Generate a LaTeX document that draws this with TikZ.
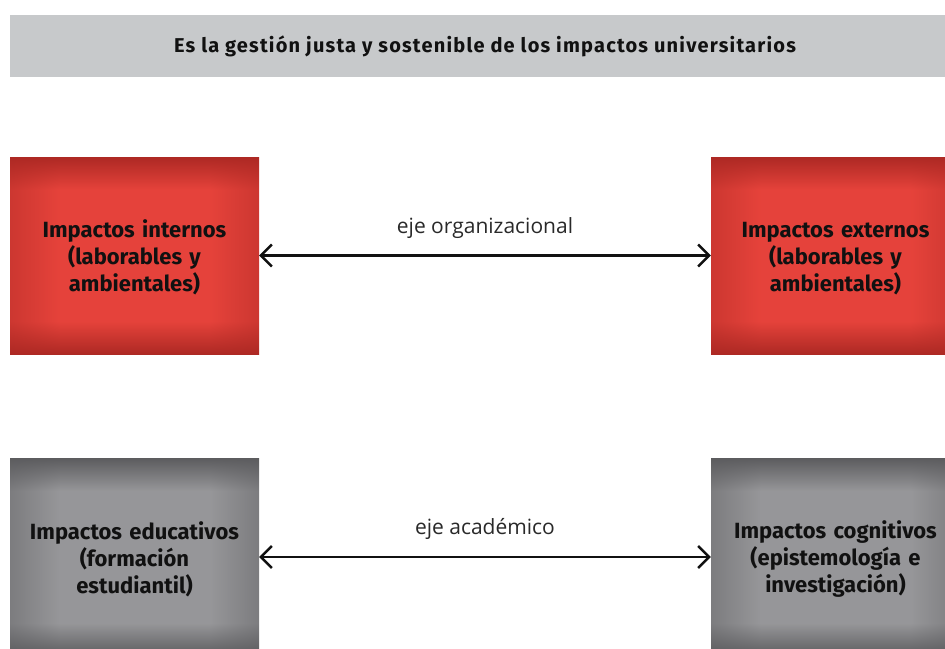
\documentclass[tikz,border=0pt]{standalone}
\usepackage{fontspec}
\setmainfont{Fira Sans}
\newfontfamily\labelfont{Open Sans}
\usetikzlibrary{arrows.meta}
\definecolor{bannergray}{HTML}{C7C9CB}
\definecolor{ink}{HTML}{111111}
% box shadings: colour = dark + (base - dark) * t, t falls off near the edges
% red: dark (0.69,0.16,0.14), base (0.92,0.26,0.23)
\pgfdeclarefunctionalshading{redshade}{\pgfpoint{-50bp}{-50bp}}{\pgfpoint{50bp}{50bp}}{}{
  abs 25 exch sub 0.12 mul dup 1 gt {pop 1} if dup 0 lt {pop 0} if
  exch abs 25 exch sub 0.10 mul dup 1 gt {pop 1} if dup 0 lt {pop 0} if
  0.45 mul 0.55 add mul
  dup 0.22 mul 0.68 add exch
  dup 0.10 mul 0.16 add exch
  0.09 mul 0.14 add
}
% gray: dark (0.36,0.36,0.37), base (0.59,0.59,0.60)
\pgfdeclarefunctionalshading{grayshade}{\pgfpoint{-50bp}{-50bp}}{\pgfpoint{50bp}{50bp}}{}{
  abs 25 exch sub 0.12 mul dup 1 gt {pop 1} if dup 0 lt {pop 0} if
  exch abs 25 exch sub 0.10 mul dup 1 gt {pop 1} if dup 0 lt {pop 0} if
  0.45 mul 0.55 add mul
  dup 0.23 mul 0.36 add exch
  dup 0.23 mul 0.36 add exch
  0.23 mul 0.37 add
}
\newcommand{\firstline}{\rule{0pt}{22pt}}
\tikzset{
  impbox/.style={shade, shading=#1, minimum width=249pt, inner sep=0pt,
    align=center, text width=245pt, text=ink,
    font=\fontsize{22}{27}\selectfont\bfseries},
  redbox/.style={impbox=redshade, minimum height=197pt},
  graybox/.style={impbox=grayshade, minimum height=198pt},
  axis/.style={{Straight Barb[length=11pt,width=22pt]}-{Straight Barb[length=11pt,width=22pt]}, line width=2.4pt, ink},
  axislabel/.style={midway, above=16pt, inner sep=0pt, text=ink!90, font=\labelfont\fontsize{21}{24}\selectfont}
}
\begin{document}
\begin{tikzpicture}[x=1pt,y=-1pt]
\useasboundingbox (0,0) rectangle (945,648);
\clip (0,0) rectangle (945,648);
\node[fill=bannergray, minimum width=950pt, minimum height=62pt, inner sep=0pt, text=ink,
      font=\fontsize{20}{22}\selectfont\bfseries\addfontfeatures{LetterSpace=6}] (title) at (485,46)
      {Es la gestión justa y sostenible de los impactos universitarios};
\node[redbox] (intl) at (134.5,255.5) {\firstline Impactos internos\\(laborables y\\ambientales)};
\node[redbox] (extl) at (835.5,255.5) {\firstline Impactos externos\\(laborables y\\ambientales)};
\node[graybox] (edu) at (134.5,557) {\firstline Impactos educativos\\(formación\\estudiantil)};
\node[graybox] (cog) at (835.5,557) {\firstline Impactos cognitivos\\(epistemología e\\investigación)};
\draw[axis] (intl.east) -- (extl.west) node[axislabel] (lab1) {eje organizacional};
\draw[axis] (edu.east) -- (cog.west) node[axislabel] (lab2) {eje académico};
\end{tikzpicture}
\end{document}
